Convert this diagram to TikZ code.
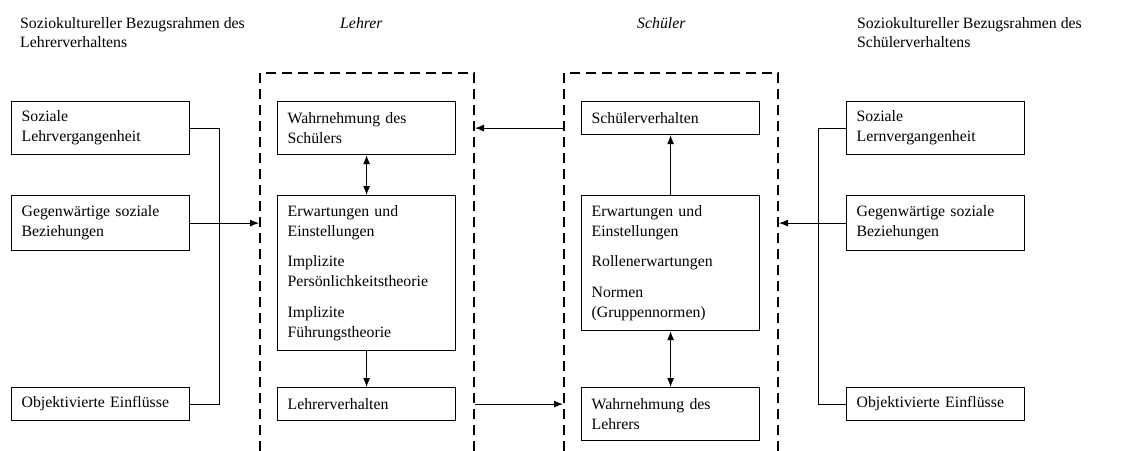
\documentclass[tikz,border=0pt]{standalone}
\usepackage{fontspec}
\setmainfont{Liberation Serif}
\usetikzlibrary{arrows.meta}
\begin{document}
\begin{tikzpicture}[x=1pt,y=-1pt,
  every node/.style={font=\fontsize{15.8}{19.8}\selectfont},
  box/.style={draw, line width=1.2pt, anchor=north west, text width=158pt, inner xsep=10pt, inner ysep=2pt, align=left},
  dashbox/.style={draw, line width=2pt, dash pattern=on 10pt off 6pt, anchor=north west, minimum width=214pt, minimum height=420pt, inner sep=0pt},
  conn/.style={line width=0.9pt},
  arr/.style={line width=0.9pt, -{Latex[length=9pt,width=7pt]}},
  darr/.style={line width=0.9pt, {Latex[length=9pt,width=7pt]}-{Latex[length=9pt,width=7pt]}},
  head/.style={anchor=north west, inner sep=0pt, align=left}
]
\useasboundingbox (0,0) rectangle (1122,450);
\clip (0,0) rectangle (1122,450);
\fill[white] (0,0) rectangle (1122,450);

% headers
\node[head] (h1) at (20,17) {Soziokultureller Bezugsrahmen des\\Lehrerverhaltens};
\node[head] (h2) at (340,17) {\itshape Lehrer};
\node[head] (h3) at (637,17) {\itshape Schüler};
\node[head] (h4) at (857,17) {Soziokultureller Bezugsrahmen des\\Schülerverhaltens};

% dashed frames
\node[dashbox] (L) at (259,72) {};
\node[dashbox] (R) at (563,72) {};

% left column
\node[box, minimum height=53pt] (s1) at (11,101) {Soziale\\Lehrvergangenheit};
\node[box, minimum height=55pt] (g1) at (11,195) {Gegenwärtige soziale\\Beziehungen};
\node[box, minimum height=33pt] (o1) at (11,387) {Objektivierte Einflüsse};

% teacher
\node[box, minimum height=53pt] (ws) at (277,101) {Wahrnehmung des\\Schülers};
\node[box, minimum height=155pt] (e1) at (277,195) {Erwartungen und\\Einstellungen\\[11pt]Implizite\\Persönlichkeitstheorie\\[11pt]Implizite\\Führungstheorie};
\node[box, minimum height=33pt] (lv) at (277,387) {Lehrerverhalten};

% student
\node[box, minimum height=33pt] (sv) at (581,101) {Schülerverhalten};
\node[box, minimum height=135pt] (e2) at (581,195) {Erwartungen und\\Einstellungen\\[11pt]Rollenerwartungen\\[11pt]Normen\\(Gruppennormen)};
\node[box, minimum height=53pt] (wl) at (581,387) {Wahrnehmung des\\Lehrers};

% right column
\node[box, minimum height=53pt] (s2) at (846,101) {Soziale\\Lernvergangenheit};
\node[box, minimum height=55pt] (g2) at (846,195) {Gegenwärtige soziale\\Beziehungen};
\node[box, minimum height=33pt] (o2) at (846,387) {Objektivierte Einflüsse};

% connectors left
\draw[conn] (s1.east) -- ++(29,0) |- (o1.east);
\draw[arr] (g1.east) -- (g1.east -| L.west);
% connectors right
\draw[conn] (s2.west) -- ++(-28,0) |- (o2.west);
\draw[arr] (g2.west) -- (g2.west -| R.east);

% inside teacher
\draw[darr] (ws.south) -- (e1.north);
\draw[arr] (e1.south) -- (lv.north);
% inside student
\draw[arr] (e2.north) -- (sv.south);
\draw[darr] (e2.south) -- (wl.north);

% between frames
\draw[arr] (R.west |- ws.east) -- (L.east |- ws.east);
\draw[arr] (L.east |- lv.east) -- (R.west |- lv.east);
\end{tikzpicture}
\end{document}
